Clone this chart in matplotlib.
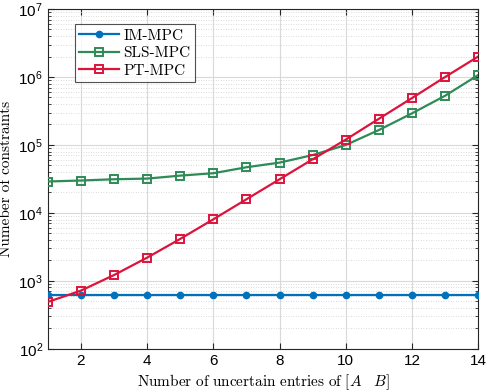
import matplotlib
matplotlib.use("Agg")
import matplotlib.pyplot as plt
from matplotlib.ticker import LogLocator, NullFormatter

plt.rcParams['font.family'] = ['Liberation Sans', 'DejaVu Sans']
plt.rcParams['mathtext.fontset'] = 'cm'
plt.rcParams['axes.unicode_minus'] = False

entries = [1, 2, 3, 4, 5, 6, 7, 8, 9, 10, 11, 12, 13, 14]
im_mpc = [630] * 14
sls_mpc = [29000, 30000, 31300, 32000, 35400, 38400, 47000, 55000, 71000,
           100000, 166000, 292000, 530000, 1070000]
pt_mpc = [490, 720, 1220, 2200, 4150, 8070, 15900, 31300, 61600,
          120000, 243000, 490000, 1000000, 2000000]

fig = plt.figure(figsize=(4.88, 3.92), dpi=100)
ax = fig.add_axes([0.098, 0.11, 0.882, 0.867])

ax.plot(entries, im_mpc, color='#0072BD', lw=1.6, marker='o', ms=4.5,
        mfc='#0072BD', mec='#0072BD', label='IM-MPC', zorder=3)
ax.plot(entries, sls_mpc, color='#2E8B57', lw=1.6, marker='s', ms=6,
        mfc='none', mew=1.4, label='SLS-MPC', zorder=3)
ax.plot(entries, pt_mpc, color='#DC143C', lw=1.6, marker='s', ms=6,
        mfc='none', mew=1.4, label='PT-MPC', zorder=3)

ax.set_yscale('log')
ax.set_xlim(1, 14)
ax.set_ylim(1e2, 1e7)
ax.set_xticks([2, 4, 6, 8, 10, 12, 14])
ax.yaxis.set_major_locator(LogLocator(base=10, numticks=10))
ax.yaxis.set_minor_locator(LogLocator(base=10, subs=range(2, 10), numticks=20))
ax.yaxis.set_minor_formatter(NullFormatter())

ax.grid(True, which='major', color='#d9d9d9', lw=0.8)
ax.grid(True, which='minor', axis='y', color='#cfcfcf', lw=0.6, ls=(0, (1, 2)))
ax.set_axisbelow(True)
ax.tick_params(which='both', direction='in', top=True, right=True,
               labelsize=11, color='#262626')
ax.tick_params(which='major', length=4)
ax.tick_params(which='minor', length=2)
for s in ax.spines.values():
    s.set_color('#262626')
    s.set_linewidth(0.8)

ax.set_xlabel(r'$\mathrm{Number\ of\ uncertain\ entries\ of\ }[A\quad B]$',
              fontsize=11, labelpad=3)
ax.set_ylabel('Numeber of constraints', family='cmr10', fontsize=11, labelpad=4)

leg = ax.legend(loc='upper left', bbox_to_anchor=(0.062, 0.955), fancybox=False,
                edgecolor='#262626', prop={'family': 'cmr10', 'size': 11},
                handlelength=2.6, borderpad=0.3, labelspacing=0.25,
                handletextpad=0.3, borderaxespad=0)
leg.get_frame().set_linewidth(0.8)

fig.savefig('out.png', dpi=100)
